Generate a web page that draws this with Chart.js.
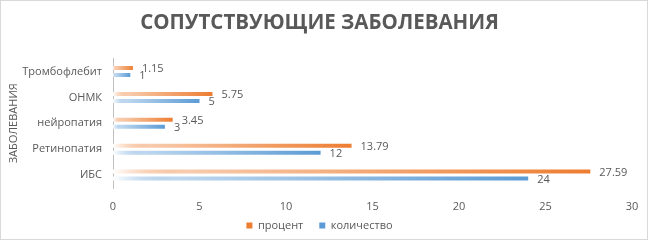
<!DOCTYPE html>
<html lang="ru">
<head>
    <meta charset="UTF-8">
    <title>Сопутствующие заболевания</title>
    <script src="https://cdn.jsdelivr.net/npm/chart.js"></script>
    <style>
        body {
            margin: 0;
            background-color: #ffffff;
        }
        .wrap {
            width: 646px;
            height: 238px;
            border: 1px solid #d9d9d9;
            overflow: hidden;
        }
    </style>
</head>
<body>
    <div class="wrap"><canvas id="diseaseChart" width="646" height="238"></canvas></div>

    <script>
        const categories = ['Тромбофлебит', 'ОНМК', 'нейропатия', 'Ретинопатия', 'ИБС'];
        const percentValues = [1.15, 5.75, 3.45, 13.79, 27.59];
        const countValues = [1, 5, 3, 12, 24];
        const xTicks = [0, 5, 10, 15, 20, 25, 30];

        const textColor = '#595959';
        const fontFamily = '"Open Sans", "DejaVu Sans", sans-serif';

        // bar fades from white at the axis to the full colour at its end
        function barGradient(color) {
            return function (context) {
                const chart = context.chart;
                const area = chart.chartArea;
                if (!area || context.type !== 'data') return color;
                const xScale = chart.scales.x;
                const x0 = xScale.getPixelForValue(0);
                const x1 = xScale.getPixelForValue(context.raw);
                if (x1 - x0 < 1) return color;
                const g = chart.ctx.createLinearGradient(x0, 0, x1, 0);
                g.addColorStop(0, 'rgba(255,255,255,1)');
                g.addColorStop(0.15, color + '66');
                g.addColorStop(1, color);
                return g;
            };
        }

        const valueLabels = {
            id: 'valueLabels',
            afterDatasetsDraw(chart) {
                const ctx = chart.ctx;
                ctx.save();
                ctx.font = '11px ' + fontFamily;
                ctx.fillStyle = textColor;
                ctx.textAlign = 'left';
                ctx.textBaseline = 'middle';
                chart.data.datasets.forEach((ds, i) => {
                    const meta = chart.getDatasetMeta(i);
                    meta.data.forEach((bar, j) => {
                        ctx.fillText(String(ds.data[j]), bar.x + 9, bar.y + 1);
                    });
                });
                ctx.restore();
            }
        };

        new Chart(document.getElementById('diseaseChart'), {
            type: 'bar',
            data: {
                labels: categories,
                datasets: [{
                    label: 'процент',
                    data: percentValues,
                    backgroundColor: barGradient('#ed7d31'),
                    categoryPercentage: 0.54,
                    barPercentage: 0.58
                }, {
                    label: 'количество',
                    data: countValues,
                    backgroundColor: barGradient('#5b9bd5'),
                    categoryPercentage: 0.54,
                    barPercentage: 0.58
                }]
            },
            options: {
                indexAxis: 'y',
                responsive: false,
                animation: false,
                layout: {
                    padding: { left: 6, right: 15, top: 0, bottom: -2 }
                },
                scales: {
                    x: {
                        min: 0,
                        max: 30,
                        afterBuildTicks(scale) {
                            scale.ticks = xTicks.map(v => ({ value: v }));
                        },
                        afterFit(scale) {
                            // thin axis box, tick labels may spill into the legend's top padding
                            scale.height = 16;
                            scale.paddingRight = 0;
                            scale._computeLabelArea = () => undefined;
                        },
                        grid: { display: false, drawTicks: false },
                        border: { display: false },
                        ticks: {
                            color: textColor,
                            font: { family: fontFamily, size: 11 },
                            padding: 12
                        }
                    },
                    y: {
                        grid: { display: false, drawTicks: false },
                        border: { display: true, color: '#bfbfbf', width: 1 },
                        afterFit(scale) {
                            scale.width = 106;
                        },
                        title: {
                            display: true,
                            text: 'ЗАБОЛЕВАНИЯ',
                            color: textColor,
                            font: { family: fontFamily, size: 11 },
                            padding: 0
                        },
                        ticks: {
                            color: textColor,
                            font: { family: fontFamily, size: 11 },
                            padding: 11
                        }
                    }
                },
                plugins: {
                    title: {
                        display: true,
                        text: 'СОПУТСТВУЮЩИЕ ЗАБОЛЕВАНИЯ',
                        color: textColor,
                        font: { family: fontFamily, size: 20.5, weight: 'bold' },
                        padding: { top: 10, bottom: 23 }
                    },
                    legend: {
                        position: 'bottom',
                        labels: {
                            color: textColor,
                            font: { family: fontFamily, size: 11 },
                            boxWidth: 6,
                            boxHeight: 6,
                            padding: 16,
                            generateLabels(chart) {
                                const fills = ['#ed7d31', '#5b9bd5'];
                                return chart.data.datasets.map((ds, i) => ({
                                    text: ds.label,
                                    fillStyle: fills[i],
                                    strokeStyle: fills[i],
                                    lineWidth: 0,
                                    fontColor: textColor,
                                    datasetIndex: i
                                }));
                            }
                        }
                    },
                    tooltip: { enabled: false }
                }
            },
            plugins: [valueLabels]
        });
    </script>
</body>
</html>
